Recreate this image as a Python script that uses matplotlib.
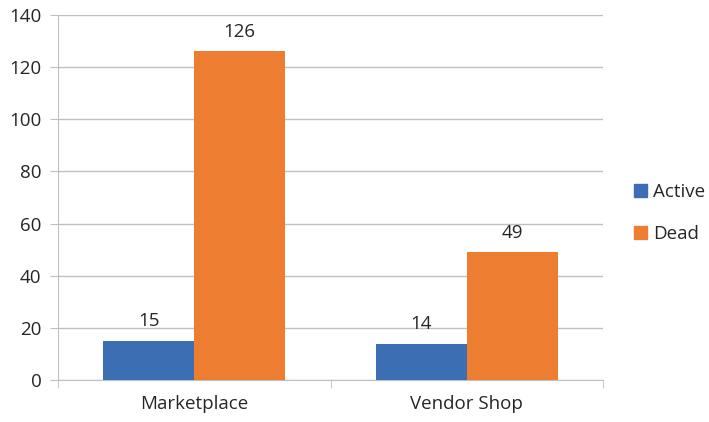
import numpy as np
import matplotlib.pyplot as plt
from matplotlib.patches import Patch

plt.rcParams['font.family'] = ['Open Sans', 'DejaVu Sans']

categories = ['Marketplace', 'Vendor Shop']
active = [15, 14]
dead = [126, 49]

blue = '#3C6EB4'
orange = '#ED7D31'
grid_c = '#BFBFBF'
text_c = '#262626'
fs = 13.5

fig = plt.figure(figsize=(7.09, 4.22), dpi=100)
ax = fig.add_axes([0.0818, 0.0995, 0.7687, 0.865])

x = np.arange(len(categories))
w = 0.334
b1 = ax.bar(x - w / 2, active, w, color=blue, zorder=3)
b2 = ax.bar(x + w / 2, dead, w, color=orange, zorder=3)

for bars in (b1, b2):
    for r in bars:
        ax.text(r.get_x() + r.get_width() / 2, r.get_height() + 4, f'{r.get_height():.0f}',
                ha='center', va='bottom', fontsize=fs, color=text_c)

ax.set_xlim(-0.5, 1.5)
ax.set_ylim(0, 140)
ax.set_yticks(range(0, 141, 20))
ax.yaxis.grid(True, color=grid_c, lw=1, zorder=0)
ax.set_xticks(x)
ax.set_xticklabels(categories)
ax.set_xticks([-0.5, 0.5, 1.5], minor=True)
ax.tick_params(axis='x', which='major', length=0, pad=11, labelsize=fs, labelcolor=text_c)
ax.tick_params(axis='x', which='minor', length=6, color=grid_c)
ax.tick_params(axis='y', length=6, color=grid_c, labelsize=fs, labelcolor=text_c, pad=6)
for s in ('top', 'right'):
    ax.spines[s].set_visible(False)
for s in ('left', 'bottom'):
    ax.spines[s].set_color(grid_c)

handles = [Patch(color=blue, label='Active'), Patch(color=orange, label='Dead')]
fig.legend(handles=handles, loc='center left', bbox_to_anchor=(0.87, 0.495), frameon=False,
           fontsize=fs, handlelength=0.7, handleheight=0.7, handletextpad=0.35, labelspacing=1.25,
           labelcolor=text_c)

fig.savefig('out.png', dpi=100)
